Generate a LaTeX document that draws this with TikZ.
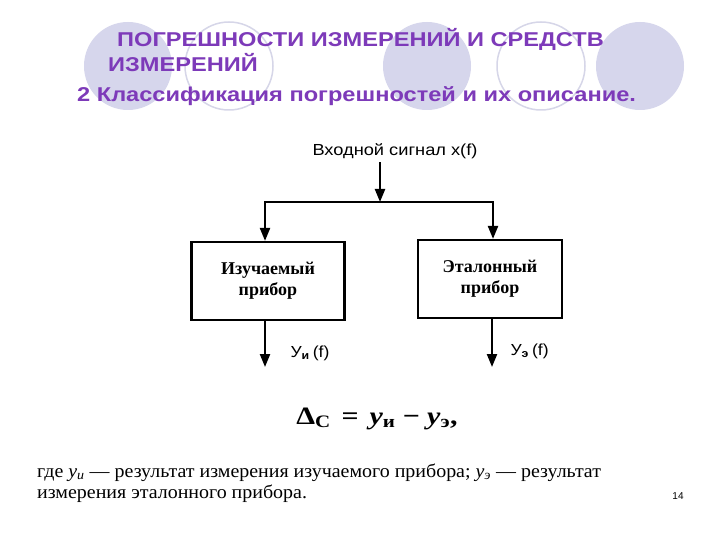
\documentclass[tikz,border=0pt]{standalone}
\usepackage{fontspec}
\setmainfont{Liberation Serif}
\setsansfont{Liberation Sans}
\usetikzlibrary{arrows.meta, positioning}
\definecolor{titlepurple}{RGB}{125,58,185}
\definecolor{circlefill}{RGB}{214,214,236}
\definecolor{circleline}{RGB}{214,214,232}

\begin{document}
\begin{tikzpicture}[x=1pt, y=-1pt,
    titletext/.style={anchor=base west, inner sep=0, text=titlepurple,
      font=\sffamily\bfseries\fontsize{20}{24}\selectfont},
    notetext/.style={anchor=base west, inner sep=0, font=\fontsize{19}{21}\selectfont},
    devbox/.style={draw, line width=2.2pt, minimum width=153pt, minimum height=78pt,
      align=center, font=\fontsize{18}{21}\selectfont\bfseries},
    sigarrow/.style={line width=2.2pt, -{Triangle[length=13pt, width=10pt]}}]
  \useasboundingbox (0,0) rectangle (720,540);
  \fill[white] (0,0) rectangle (720,540);

  % Background circles
  \fill[circlefill] (128,66) circle (44);
  \draw[circleline, line width=1.5pt] (229,66) circle (44);
  \fill[circlefill] (427,66) circle (44);
  \draw[circleline, line width=1.5pt] (541,66) circle (44);
  \fill[circlefill] (640,66) circle (44);

  % Title
  \node[titletext] (title1) at (117,47) {\scalebox{1.18}[1]{ПОГРЕШНОСТИ ИЗМЕРЕНИЙ И СРЕДСТВ}};
  \node[titletext] (title2) at (108,72) {\scalebox{1.18}[1]{ИЗМЕРЕНИЙ}};
  \node[titletext] (title3) at (77,102) {\scalebox{1.18}[1]{2 Классификация погрешностей и их описание.}};

  % Block diagram
  \node[font=\sffamily\fontsize{16}{18}\selectfont] (input) at (395,151) {\scalebox{1.14}[1]{Входной сигнал x(f)}};
  \coordinate (split) at (380,202);
  \node[devbox] (izm) at (268,281) {Изучаемый\\прибор};
  \node[devbox, minimum width=144pt] (etal) at (490,279) {Эталонный\\прибор};
  \coordinate (outI) at (265,367);
  \coordinate (outE) at (492,367);

  \draw[sigarrow] (input.south -| split) -- (split);
  \draw[sigarrow] (split) -| ([xshift=-3pt]izm.north);
  \draw[sigarrow] (split) -| ([xshift=3pt]etal.north);
  \draw[sigarrow] (izm.south -| outI) -- (outI);
  \draw[sigarrow] (etal.south -| outE) -- (outE);

  % Output labels
  \node[anchor=base west, font=\sffamily\fontsize{16}{18}\selectfont] (labI) at (287,357)
    {\scalebox{1.1}[1]{У\textsubscript{\bfseries и}\,(f)}};
  \node[anchor=base west, font=\sffamily\fontsize{16}{18}\selectfont] (labE) at (507,355)
    {\scalebox{1.1}[1]{У\textsubscript{\bfseries э}\,(f)}};

  % Formula
  \node[anchor=base, inner sep=0, font=\bfseries\fontsize{25}{28}\selectfont] (formula) at (377,424)
    {\scalebox{1.2}[1]{Δ\textsubscript{C}\hspace{9pt}=\hspace{9pt}\textit{y}\textsubscript{и}\hspace{6pt}−\hspace{6pt}\textit{y}\textsubscript{э},}};

  % Explanation
  \node[notetext] (note1) at (37,477)
    {\scalebox{1.05}[1]{где \textit{у}\textsubscript{\textit{и}} — результат измерения изучаемого прибора; \textit{у}\textsubscript{\textit{э}} — результат}};
  \node[notetext] (note2) at (37,498) {\scalebox{1.05}[1]{измерения эталонного прибора.}};
  \node[anchor=base, font=\sffamily\fontsize{10}{12}\selectfont] (page) at (678,499) {14};
\end{tikzpicture}
\end{document}
